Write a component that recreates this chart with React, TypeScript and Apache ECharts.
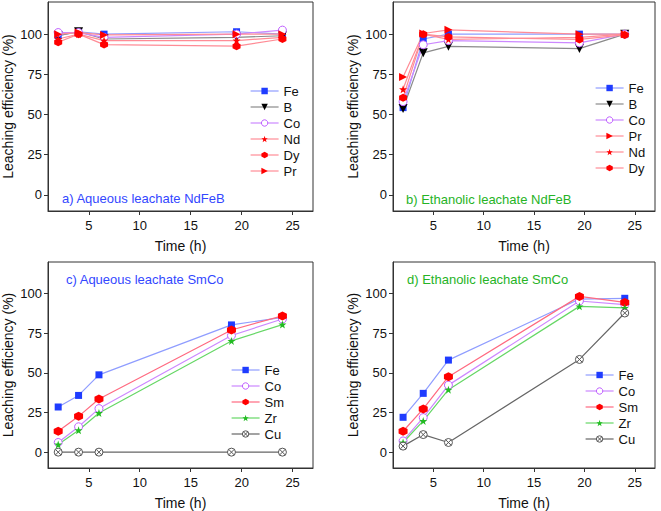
import React, { useEffect, useRef } from "react";
import * as echarts from "echarts";

// ---- data ----
const xAqNdFeB = [2, 4, 6.5, 19.5, 24];
const xEtNdFeB = [2, 4, 6.5, 19.5, 24];
const xAqSmCo = [2, 4, 6, 19, 24];
const xEtSmCo = [2, 4, 6.5, 19.5, 24];

const aFe = [99, 101.5, 100, 101.5, 100];
const aB = [99, 101.5, 97, 98, 99];
const aCo = [101, 101, 98, 100, 102.5];
const aNd = [97, 100, 96, 96, 98];
const aDy = [95, 100, 93.5, 92.5, 97];
const aPr = [100, 101, 99.5, 100, 100];

const bFe = [54.3, 97, 100, 100, 100];
const bB = [53.7, 88.4, 92.4, 91, 100];
const bCo = [58, 93.4, 96, 94.6, 100];
const bPr = [73.3, 100.4, 102.7, 100, 100];
const bNd = [65.7, 100, 96.7, 98, 100];
const bDy = [60.5, 100, 98.3, 96.7, 99.5];

const cFe = [28.5, 35.8, 48.8, 80.3, 85.1];
const cCo = [6.1, 16, 27.5, 73.6, 84];
const cSm = [13.2, 22.6, 33.5, 77.1, 86];
const cZr = [4.8, 13.8, 24.7, 70.2, 80.5];
const cCu = [0, 0, 0, 0, 0];

const dFe = [22, 37.1, 58.1, 96.6, 97.1];
const dCo = [7.1, 21.8, 42.3, 95.4, 93.1];
const dSm = [13.2, 27.3, 47.6, 98.3, 94.5];
const dZr = [6.1, 19.7, 39.4, 92, 91];
const dCu = [3.8, 11.1, 6.1, 58.5, 87.8];

const xTicks = [5, 10, 15, 20, 25];
const yTicks = [0, 25, 50, 75, 100];

const legendA = ["Fe", "B", "Co", "Nd", "Dy", "Pr"];
const legendB = ["Fe", "B", "Co", "Pr", "Nd", "Dy"];
const legendCD = ["Fe", "Co", "Sm", "Zr", "Cu"];

const FONT = "'Liberation Sans', Arial, sans-serif";

const STAR = "path://M5,0 L6.2,3.6 L10,3.6 L7,5.9 L8.1,9.5 L5,7.3 L1.9,9.5 L3,5.9 L0,3.6 L3.8,3.6 Z";
const HEX = "path://M5,0 L9.33,2.5 L9.33,7.5 L5,10 L0.67,7.5 L0.67,2.5 Z";
const CUSYM = "path://M0,5 A5,5 0 1,1 10,5 A5,5 0 1,1 0,5 Z M1.6,1.6 L8.4,8.4 M8.4,1.6 L1.6,8.4";

type Sty = { symbol: string; size: number; color: string; line: string; border?: string; rotate?: number };
const styles: Record<string, Sty> = {
  Fe: { symbol: "rect", size: 7, color: "#1f3cff", line: "#8f9dff" },
  B: { symbol: "triangle", size: 9, color: "#000000", line: "#8a8a8a", rotate: 180 },
  Co: { symbol: "circle", size: 8, color: "#ffffff", line: "#cc88ff", border: "#c060ff" },
  Nd: { symbol: STAR, size: 8, color: "#ff0000", line: "#ff8c96" },
  Dy: { symbol: HEX, size: 8, color: "#ff0000", line: "#ff8c96" },
  Pr: { symbol: "triangle", size: 8, color: "#ff0000", line: "#ff8c96", rotate: -90 },
  Sm: { symbol: HEX, size: 9, color: "#ff0000", line: "#ff6a80" },
  Zr: { symbol: STAR, size: 8, color: "#22bb22", line: "#66d766" },
  Cu: { symbol: CUSYM, size: 8, color: "#ffffff", line: "#666666", border: "#555555" },
};

function itemStyleOf(name: string) {
  const s = styles[name];
  const st: any = { color: s.color };
  if (s.border) {
    st.borderColor = s.border;
    st.borderWidth = 1;
  } else {
    st.borderWidth = 0;
  }
  return st;
}

function mk(grid: number, name: string, xs: number[], ys: number[]) {
  const s = styles[name];
  return {
    type: "line",
    name,
    xAxisIndex: grid,
    yAxisIndex: grid,
    data: xs.map((x, i) => [x, ys[i]]),
    symbol: s.symbol,
    symbolSize: s.size,
    symbolRotate: s.rotate || 0,
    showAllSymbol: true,
    lineStyle: { color: s.line, width: 1.2 },
    itemStyle: itemStyleOf(name),
    z: 3,
  };
}

function legendData(names: string[]) {
  return names.map((n) => ({
    name: n,
    itemStyle: itemStyleOf(n),
    lineStyle: { color: styles[n].line, width: 1.2 },
  }));
}

const grids = [
  { left: 48, top: 2, width: 265, height: 209 },
  { left: 393, top: 2, width: 262, height: 209 },
  { left: 48, top: 262, width: 265, height: 206 },
  { left: 393, top: 262, width: 262, height: 206 },
];

export default function App() {
  const ref = useRef<HTMLDivElement>(null);
  useEffect(() => {
    if (!ref.current) return;
    const chart = echarts.init(ref.current, undefined, { renderer: "svg" });
    const xAxes = grids.map((_, i) => ({
      type: "value",
      gridIndex: i,
      min: 1,
      max: 27,
      name: "Time (h)",
      nameLocation: "middle",
      nameGap: 28,
      nameTextStyle: { fontSize: 14, color: "#111", fontFamily: FONT },
      axisLine: { show: true, onZero: false, lineStyle: { color: "#333" } },
      axisTick: { show: true, length: 4, inside: false, customValues: xTicks, lineStyle: { color: "#333" } },
      axisLabel: { customValues: xTicks, margin: 8, fontSize: 13, color: "#111", fontFamily: FONT },
      splitLine: { show: false },
    }));
    const yAxes = grids.map((_, i) => ({
      type: "value",
      gridIndex: i,
      min: -10,
      max: 120,
      name: "Leaching efficiency (%)",
      nameLocation: "middle",
      nameRotate: 90,
      nameGap: 33,
      nameTextStyle: { fontSize: 14, color: "#111", fontFamily: FONT },
      axisLine: { show: true, lineStyle: { color: "#333" } },
      axisTick: { show: true, length: 4, inside: false, customValues: yTicks, lineStyle: { color: "#333" } },
      axisLabel: { customValues: yTicks, margin: 6, fontSize: 13, color: "#111", fontFamily: FONT },
      splitLine: { show: false },
    }));
    const legendCommon = {
      orient: "vertical",
      itemWidth: 28,
      itemHeight: 8,
      itemGap: 2,
      textStyle: { fontSize: 13, color: "#111", fontFamily: FONT, lineHeight: 14 },
      padding: 0,
      selectedMode: false,
    };
    const series = [
      mk(0, "Fe", xAqNdFeB, aFe),
      mk(0, "B", xAqNdFeB, aB),
      mk(0, "Co", xAqNdFeB, aCo),
      mk(0, "Nd", xAqNdFeB, aNd),
      mk(0, "Dy", xAqNdFeB, aDy),
      mk(0, "Pr", xAqNdFeB, aPr),
      mk(1, "Fe", xEtNdFeB, bFe),
      mk(1, "B", xEtNdFeB, bB),
      mk(1, "Co", xEtNdFeB, bCo),
      mk(1, "Pr", xEtNdFeB, bPr),
      mk(1, "Nd", xEtNdFeB, bNd),
      mk(1, "Dy", xEtNdFeB, bDy),
      mk(2, "Fe", xAqSmCo, cFe),
      mk(2, "Co", xAqSmCo, cCo),
      mk(2, "Sm", xAqSmCo, cSm),
      mk(2, "Zr", xAqSmCo, cZr),
      mk(2, "Cu", xAqSmCo, cCu),
      mk(3, "Fe", xEtSmCo, dFe),
      mk(3, "Co", xEtSmCo, dCo),
      mk(3, "Sm", xEtSmCo, dSm),
      mk(3, "Zr", xEtSmCo, dZr),
      mk(3, "Cu", xEtSmCo, dCu),
    ];
    const blue = "#3347ff";
    const green = "#26b326";
    chart.setOption({
      animation: false,
      backgroundColor: "#ffffff",
      grid: grids.map((g) => ({ ...g, show: true, borderColor: "#333", borderWidth: 1, backgroundColor: "transparent" })),
      xAxis: xAxes,
      yAxis: yAxes,
      legend: [
        { ...legendCommon, data: legendData(legendA), left: 250, top: 84 },
        { ...legendCommon, data: legendData(legendB), left: 595, top: 81 },
        { ...legendCommon, data: legendData(legendCD), left: 231, top: 363 },
        { ...legendCommon, data: legendData(legendCD), left: 585, top: 368 },
      ],
      graphic: [
        { type: "text", left: 62, top: 192, style: { text: "a) Aqueous leachate NdFeB", fill: blue, font: `13px ${FONT}` } },
        { type: "text", left: 406, top: 193, style: { text: "b) Ethanolic leachate NdFeB", fill: green, font: `13px ${FONT}` } },
        { type: "text", left: 66, top: 273, style: { text: "c) Aqueous leachate SmCo", fill: blue, font: `13px ${FONT}` } },
        { type: "text", left: 407, top: 273, style: { text: "d) Ethanolic leachate SmCo", fill: green, font: `13px ${FONT}` } },
      ],
      series,
    });
    return () => chart.dispose();
  }, []);
  return <div ref={ref} style={{ position: "absolute", left: 0, top: 0, width: 661, height: 511, background: "#fff" }} />;
}
